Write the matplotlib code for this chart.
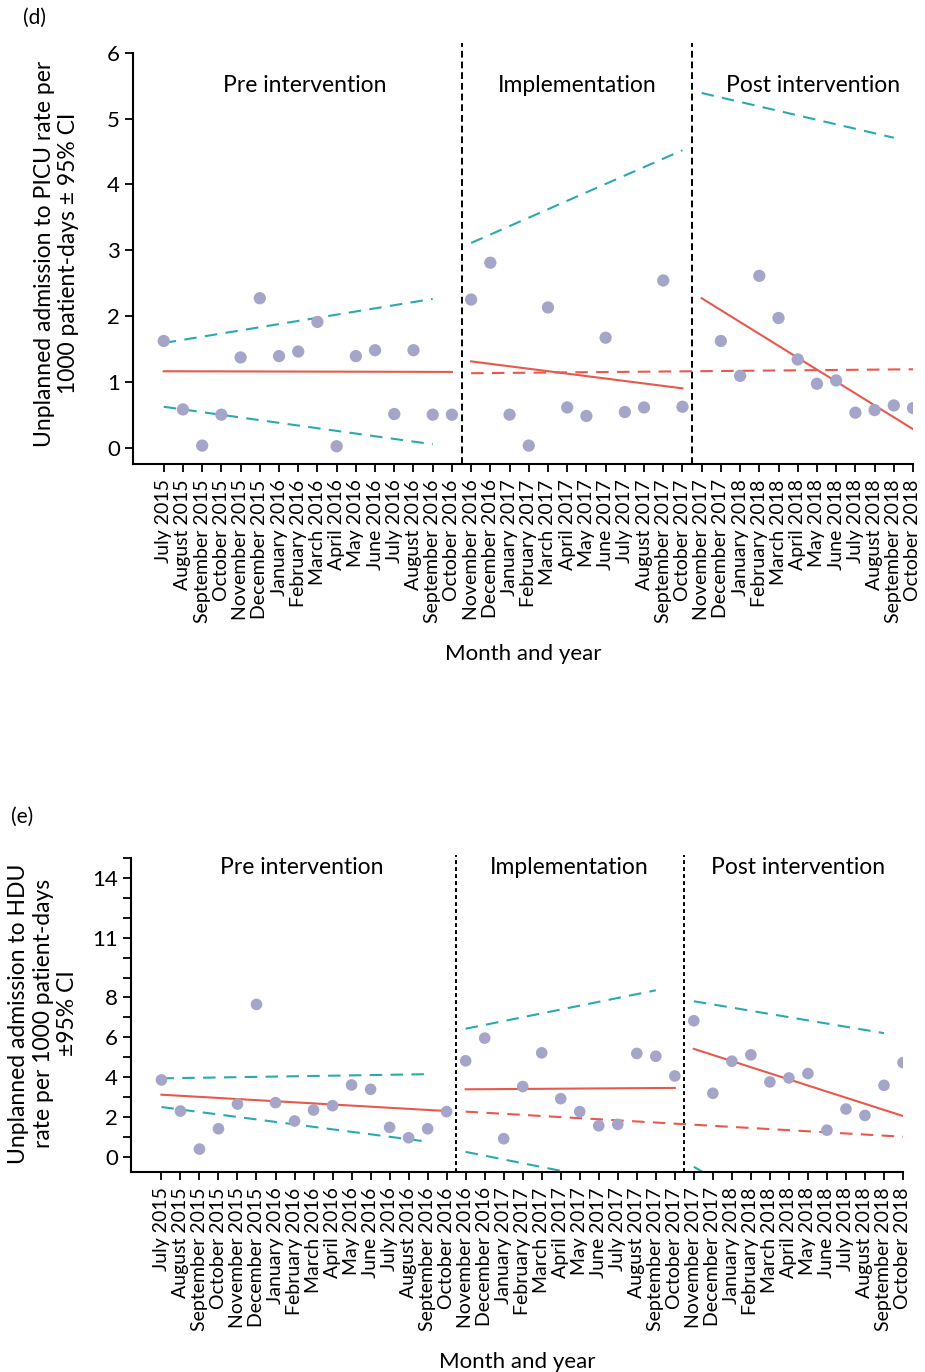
import numpy as np
import matplotlib
matplotlib.use("Agg")
import matplotlib.pyplot as plt

plt.rcParams['font.family'] = ['Lato', 'DejaVu Sans']

# Month labels (July 2015 - October 2018)
months = ["July 2015", "August 2015", "September 2015", "October 2015",
          "November 2015", "December 2015", "January 2016", "February 2016",
          "March 2016", "April 2016", "May 2016", "June 2016", "July 2016",
          "August 2016", "September 2016", "October 2016", "November 2016",
          "December 2016", "January 2017", "February 2017", "March 2017",
          "April 2017", "May 2017", "June 2017", "July 2017", "August 2017",
          "September 2017", "October 2017", "November 2017", "December 2017",
          "January 2018", "February 2018", "March 2018", "April 2018",
          "May 2018", "June 2018", "July 2018", "August 2018",
          "September 2018", "October 2018"]

phase_names = ["Pre intervention", "Implementation", "Post intervention"]
phase_breaks = [15.5, 27.5]

# (d) Unplanned admission to PICU, rate per 1000 patient-days
picu_rate = [1.62, 0.58, 0.03, 0.50, 1.37, 2.27, 1.39, 1.46, 1.91, 0.02,
             1.39, 1.48, 0.51, 1.48, 0.50, 0.50,
             2.25, 2.81, 0.50, 0.03, 2.13, 0.61, 0.48, 1.67, 0.54, 0.61,
             2.54, 0.62,
             np.nan, 1.62, 1.09, 2.61, 1.97, 1.34, 0.97, 1.02, 0.53, 0.57,
             0.64, 0.60]
# segments: (x_start, x_end, y_start, y_end)
picu_fit = [(0, 15, 1.16, 1.15), (16, 27, 1.31, 0.90), (28, 39, 2.27, 0.28)]
picu_ci_upper = [(0, 14, 1.59, 2.26), (16, 27, 3.11, 4.52), (28, 38, 5.39, 4.71)]
picu_ci_lower = [(0, 14, 0.62, 0.05)]
picu_counterfactual = (16, 39, 1.13, 1.19)

# (e) Unplanned admission to HDU, rate per 1000 patient-days
hdu_rate = [3.86, 2.30, 0.39, 1.41, 2.65, 7.65, 2.72, 1.80, 2.35, 2.57,
            3.61, 3.39, 1.48, 0.96, 1.41, 2.27,
            4.82, 5.96, 0.91, 3.53, 5.22, 2.92, 2.27, 1.56, 1.63, 5.19,
            5.05, 4.06,
            6.83, 3.19, 4.80, 5.12, 3.76, 3.96, 4.18, 1.34, 2.40, 2.08,
            3.59, 4.73]
hdu_fit = [(0, 15, 3.12, 2.30), (16, 27, 3.39, 3.46), (28, 39, 5.42, 2.05)]
hdu_ci_upper = [(0, 14, 3.94, 4.15), (16, 26, 6.43, 8.36), (28, 38, 7.81, 6.21)]
hdu_ci_lower = [(0, 14, 2.50, 0.76), (16, 26, 0.25, -1.65), (28, 38, -0.50, -6.0)]
hdu_counterfactual = (16, 39, 2.27, 1.01)

DOT = "#a5a5c9"
RED = "#e8584c"
TEAL = "#2aa9b1"

fig = plt.figure(figsize=(9.25, 13.72), dpi=100)


def draw_panel(ax, rate, fit, ci_up, ci_lo, cf, ylim, divider_dash, title_y,
               title_x, dot_size):
    x = np.arange(len(months))
    for seg in ci_up + ci_lo:
        ax.plot([seg[0], seg[1]], [seg[2], seg[3]], color=TEAL, lw=1.5,
                dashes=(6, 4), zorder=2)
    ax.plot([cf[0], cf[1]], [cf[2], cf[3]], color=RED, lw=1.5,
            dashes=(6, 4), zorder=2)
    for seg in fit:
        ax.plot([seg[0], seg[1]], [seg[2], seg[3]], color=RED, lw=1.5,
                zorder=3)
    ax.scatter(x, rate, s=dot_size, color=DOT, edgecolors='none', zorder=4)
    for b in phase_breaks:
        ax.axvline(b, color='black', lw=1.4, dashes=divider_dash, zorder=1)
    for name, tx in zip(phase_names, title_x):
        ax.text(tx, title_y, name, ha='center', va='center', fontsize=16.5)
    ax.set_xlim(-1.6, 39)
    ax.set_ylim(*ylim)
    ax.set_xticks(x)
    ax.set_xticklabels(months, rotation=90, fontsize=14)
    ax.tick_params(axis='x', length=6, width=1.3, pad=5)
    ax.tick_params(axis='y', length=6, width=1.3, labelsize=16)
    for s in ('top', 'right'):
        ax.spines[s].set_visible(False)
    for s in ('left', 'bottom'):
        ax.spines[s].set_linewidth(1.5)
    ax.set_xlabel("Month and year", fontsize=16)


# Panel (d)
ax1 = fig.add_axes([133 / 925, 1 - 464 / 1372, 780 / 925, 421 / 1372])
draw_panel(ax1, picu_rate, picu_fit, picu_ci_upper, picu_ci_lower,
           picu_counterfactual, (-0.25, 6.15), (3.5, 2), 5.5,
           [7.34, 21.5, 33.8], 78)
ax1.spines['left'].set_bounds(-0.25, 6)
ax1.set_yticks(range(0, 7))
ax1.set_ylabel("Unplanned admission to PICU rate per\n1000 patient-days ± 95% CI",
               fontsize=16.5, labelpad=20)
ax1.xaxis.labelpad = 15
fig.text(35 / 925, 1 - 18 / 1372, "(d)", ha='center', va='center', fontsize=15)

# Panel (e)
ax2 = fig.add_axes([131 / 925, 1 - 1172 / 1372, 772 / 925, 317 / 1372])
draw_panel(ax2, hdu_rate, hdu_fit, hdu_ci_upper, hdu_ci_lower,
           hdu_counterfactual, (-0.76, 15.15), (2, 1.6), 14.5,
           [7.36, 21.44, 33.5], 70)
ax2.spines['left'].set_bounds(-0.76, 15)
hdu_labels = {0: "0", 2: "2", 4: "4", 6: "6", 8: "8", 11: "11", 14: "14"}
ax2.set_yticks(range(0, 16))
ax2.set_yticklabels([hdu_labels.get(v, "") for v in range(0, 16)])
ax2.set_ylabel("Unplanned admission to HDU\nrate per 1000 patient-days\n±95% CI",
               fontsize=16.5, labelpad=10)
ax2.xaxis.labelpad = 15
fig.text(22 / 925, 1 - 817 / 1372, "(e)", ha='center', va='center', fontsize=15)

fig.savefig("out.png", dpi=100)
